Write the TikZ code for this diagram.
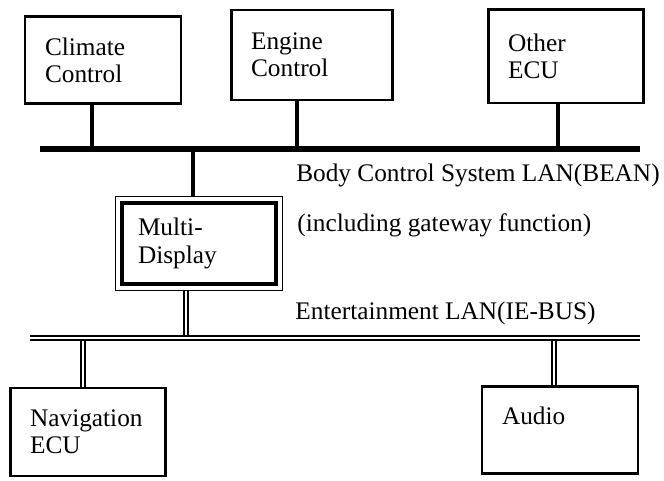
\documentclass[tikz,border=0pt]{standalone}
\usepackage{fontspec}
\setmainfont{Liberation Serif}
\usepackage{tikz}
\usetikzlibrary{positioning}

\begin{document}
\begin{tikzpicture}[
  every node/.style={font=\fontsize{18}{19.5}\selectfont},
  ecu/.style={rectangle, draw, line width=2pt, align=left, inner xsep=0.5cm, inner ysep=0pt},
  bus/.style={line width=3.6pt},
  stub/.style={line width=3.2pt},
  ebus/.style={double, line width=1.2pt, double distance=1.8pt},
  lbl/.style={anchor=west, inner sep=0pt}
]
\useasboundingbox (0,0) rectangle (16.6,-12);

% ECUs on the body LAN
\node[ecu, text width=2.9cm,   minimum height=2.175cm] (clim)  at (2.575,-1.51) {Climate\\Control};
\node[ecu, text width=3.025cm, minimum height=2.25cm]  (eng)   at (7.79,-1.375) {Engine\\Control};
\node[ecu, text width=2.875cm, minimum height=2.325cm] (other) at (14.14,-1.41) {Other\\ECU};

% gateway
\node[ecu, line width=2.8pt, inner xsep=0.4cm, text width=3.05cm, minimum height=2.025cm] (md) at (4.975,-6.09) {Multi-\\Display};
\draw[line width=1pt] ([shift={(-3.3pt,3.3pt)}]md.north west) rectangle ([shift={(3.3pt,-3.3pt)}]md.south east);

% ECUs on the entertainment LAN
\node[ecu, text width=2.875cm, minimum height=2.2cm]   (nav)   at (2.19,-10.8) {Navigation\\ECU};
\node[ecu, text width=2.9cm,   minimum height=2.175cm] (audio) at (14.0,-10.74) {Audio\\[0pt]\mbox{}};

% bus taps
\coordinate (bl) at (1.0,-3.725);
\coordinate (br) at (16.0,-3.725);
\coordinate (b1) at (2.3,-3.725);
\coordinate (b2) at (7.425,-3.725);
\coordinate (b3) at (13.95,-3.725);
\coordinate (b4) at (4.825,-3.725);
\coordinate (el) at (0.75,-8.45);
\coordinate (er) at (16.0,-8.45);
\coordinate (e1) at (4.65,-8.45);
\coordinate (e2) at (2.075,-8.45);
\coordinate (e3) at (13.85,-8.45);

% Body LAN
\draw[stub] (clim.south -| b1) -- (b1);
\draw[stub] (eng.south -| b2) -- (b2);
\draw[stub] (other.south -| b3) -- (b3);
\draw[stub] (b4) -- ([yshift=3.3pt]md.north -| b4);
\draw[bus] (bl) -- (br);

% Entertainment LAN
\draw[ebus] ([yshift=-3.3pt]md.south -| e1) -- (e1);
\draw[ebus] (e2) -- (nav.north -| e2);
\draw[ebus] (e3) -- (audio.north -| e3);
\draw[ebus] (el) -- (er);

% labels
\node[lbl] (lbean) at (7.4,-4.375)  {Body Control System LAN(BEAN)};
\node[lbl] (lgw)   at (7.43,-5.625) {(including gateway function)};
\node[lbl] (lie)   at (7.38,-7.83)  {Entertainment LAN(IE-BUS)};
\end{tikzpicture}
\end{document}
